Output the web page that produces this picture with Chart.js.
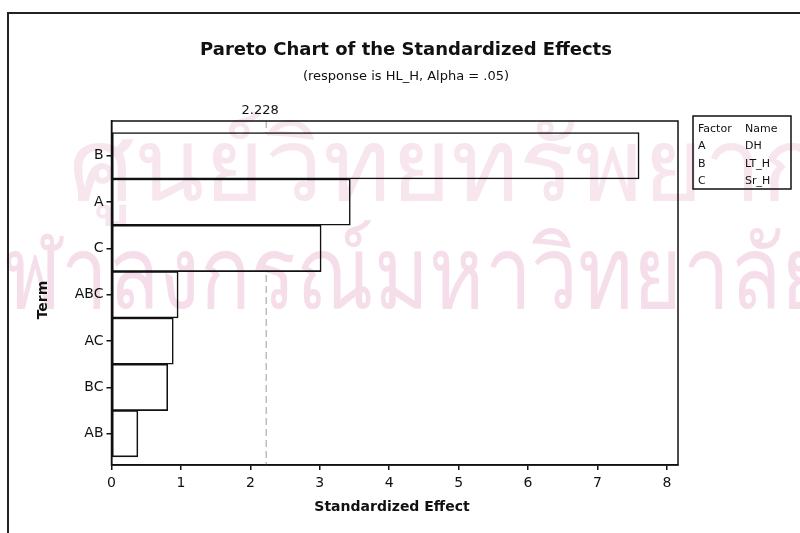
<!DOCTYPE html>
<html>
<head>
<meta charset="utf-8">
<script src="https://cdn.jsdelivr.net/npm/chart.js@4.4.1/dist/chart.umd.min.js"></script>
<style>
html,body{margin:0;padding:0;background:#fff;}
#wrap{position:relative;width:800px;height:533px;}
</style>
</head>
<body>
<div id="wrap"><canvas id="c" width="800" height="533"></canvas></div>
<script>
const terms = ["B", "A", "C", "ABC", "AC", "BC", "AB"];
const effects = [7.60, 3.44, 3.02, 0.96, 0.89, 0.81, 0.38];
const xTicks = [0, 1, 2, 3, 4, 5, 6, 7, 8];
const refValue = 2.228;
const refLabel = "2.228";
const titleText = "Pareto Chart of the Standardized Effects";
const subtitleText = "(response is HL_H, Alpha = .05)";
const xTitle = "Standardized Effect";
const yTitle = "Term";
const factorCodes = ["A", "B", "C"];
const factorNames = ["DH", "LT_H", "Sr_H"];
const watermark = ["ศูนย์วิทยทรัพยากร", "จุฬาลงกรณ์มหาวิทยาลัย"];

const FONT = "'DejaVu Sans', Verdana, sans-serif";

function drawWatermark(ctx) {
  ctx.save();
  ctx.globalCompositeOperation = 'multiply';
  ctx.textAlign = 'left';
  ctx.textBaseline = 'alphabetic';
  ctx.font = "100px 'Noto Sans', 'DejaVu Sans', sans-serif";
  const spec = [[69, 811, 200, 'rgb(248, 230, 239)'], [-45, 875, 308, 'rgb(245, 222, 234)']];
  watermark.forEach((t, i) => {
    const w = ctx.measureText(t).width;
    ctx.fillStyle = spec[i][3];
    ctx.save();
    ctx.translate(spec[i][0], spec[i][2]);
    ctx.scale(spec[i][1] / w, 1);
    ctx.fillText(t, 0, 0);
    ctx.restore();
  });
  ctx.restore();
}

const bgPlugin = {
  id: 'bg',
  beforeDraw(chart) {
    const ctx = chart.ctx;
    ctx.save();
    ctx.fillStyle = '#fff';
    ctx.fillRect(0, 0, chart.width, chart.height);
    // outer frame
    ctx.strokeStyle = '#222';
    ctx.lineWidth = 2;
    ctx.beginPath();
    ctx.moveTo(8, 540);
    ctx.lineTo(8, 13);
    ctx.lineTo(805, 13);
    ctx.stroke();
    ctx.restore();
  },
  beforeDatasetsDraw(chart) {
    const {ctx, chartArea, scales} = chart;
    const x = scales.x.getPixelForValue(refValue);
    ctx.save();
    ctx.strokeStyle = '#9a9a9a';
    ctx.lineWidth = 1;
    ctx.setLineDash([7, 4]);
    ctx.beginPath();
    ctx.moveTo(x, chartArea.top);
    ctx.lineTo(x, chartArea.bottom);
    ctx.stroke();
    ctx.restore();
  },
  afterDraw(chart) {
    const {ctx, chartArea, scales} = chart;
    ctx.save();
    // plot frame
    ctx.strokeStyle = '#111';
    ctx.lineWidth = 1.5;
    ctx.strokeRect(chartArea.left, chartArea.top, chartArea.right - chartArea.left, chartArea.bottom - chartArea.top);
    // titles
    ctx.fillStyle = '#111';
    ctx.textAlign = 'center';
    ctx.textBaseline = 'alphabetic';
    ctx.font = "bold 18px " + FONT;
    ctx.fillText(titleText, 406, 55);
    ctx.font = "13px " + FONT;
    ctx.fillText(subtitleText, 406, 80);
    // ref label
    ctx.font = "13px " + FONT;
    ctx.fillText(refLabel, scales.x.getPixelForValue(refValue) - 6, 114);
    // axis titles
    ctx.font = "bold 14px " + FONT;
    ctx.textBaseline = 'middle';
    ctx.fillText(xTitle, 392, 507);
    ctx.save();
    ctx.translate(43, 300);
    ctx.rotate(-Math.PI / 2);
    ctx.fillText(yTitle, 0, 0);
    ctx.restore();
    // legend box
    ctx.textBaseline = 'alphabetic';
    ctx.lineWidth = 1.5;
    ctx.strokeRect(693, 116, 98, 73);
    ctx.textAlign = 'left';
    ctx.font = "11px " + FONT;
    ctx.fillText("Factor", 698, 132);
    ctx.fillText("Name", 745, 132);
    for (let i = 0; i < factorCodes.length; i++) {
      ctx.fillText(factorCodes[i], 698, 149 + i * 17.5);
      ctx.fillText(factorNames[i], 745, 149 + i * 17.5);
    }
    ctx.restore();
    drawWatermark(ctx);
  }
};

new Chart(document.getElementById('c'), {
  type: 'bar',
  data: {
    datasets: [{
      data: effects.map((v, i) => ({x: v, y: i})),
      backgroundColor: '#ffffff',
      borderColor: '#111111',
      borderWidth: 1.6,
      borderSkipped: false,
      barPercentage: 1,
      categoryPercentage: 1
    }]
  },
  options: {
    indexAxis: 'y',
    responsive: false,
    animation: false,
    devicePixelRatio: 1,
    layout: {padding: {top: 121, right: 122, left: 0, bottom: 0}},
    plugins: {legend: {display: false}, tooltip: {enabled: false}},
    scales: {
      x: {
        type: 'linear',
        min: 0,
        max: 8.16,
        afterBuildTicks(s) { s.ticks = xTicks.map(v => ({value: v})); },
        afterFit(s) { s.height = 68; },
        grid: {drawOnChartArea: false, drawTicks: true, tickLength: 5, color: '#111', lineWidth: 1.5},
        border: {display: true, color: '#111', width: 1.5},
        ticks: {color: '#111', font: {family: FONT, size: 14}, padding: 5, maxRotation: 0},
        title: {display: false}
      },
      y: {
        type: 'linear',
        reverse: true,
        offset: false,
        min: -0.75,
        max: 6.675,
        afterBuildTicks(s) { s.ticks = terms.map((t, i) => ({value: i})); },
        afterFit(s) { s.width = 111.5; },
        grid: {offset: false, drawOnChartArea: false, drawTicks: true, tickLength: 5, color: '#111', lineWidth: 1.5},
        border: {display: true, color: '#111', width: 1.5},
        ticks: {color: '#111', font: {family: FONT, size: 14}, padding: 3, callback: (v) => terms[v]},
        title: {display: false}
      }
    }
  },
  plugins: [bgPlugin]
});
</script>
</body>
</html>
